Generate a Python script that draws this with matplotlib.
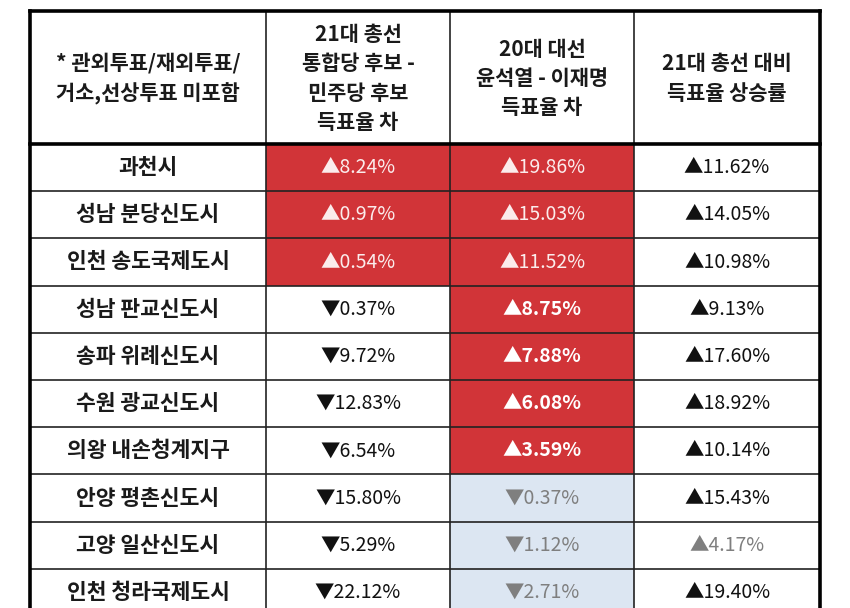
import numpy as np
import matplotlib as mpl
import matplotlib.pyplot as plt
from matplotlib.patches import Rectangle

plt.rcParams['font.family'] = ['Noto Sans CJK KR', 'DejaVu Sans']

#~~~~~~~~ Data ~~~~~~~~~~~~
headers = ['* 관외투표/재외투표/\n거소,선상투표 미포함',
           '21대 총선\n통합당 후보 -\n민주당 후보\n득표율 차',
           '20대 대선\n윤석열 - 이재명\n득표율 차',
           '21대 총선 대비\n득표율 상승률']
regions = ['과천시', '성남 분당신도시', '인천 송도국제도시', '성남 판교신도시',
           '송파 위례신도시', '수원 광교신도시', '의왕 내손청계지구',
           '안양 평촌신도시', '고양 일산신도시', '인천 청라국제도시']
gap21 = [8.24, 0.97, 0.54, -0.37, -9.72, -12.83, -6.54, -15.80, -5.29, -22.12]
gap20 = [19.86, 15.03, 11.52, 8.75, 7.88, 6.08, 3.59, -0.37, -1.12, -2.71]
rise = [11.62, 14.05, 10.98, 9.13, 17.60, 18.92, 10.14, 15.43, 4.17, 19.40]
#~~~~~~~~~~~~~~~~~~~~~~~~~~~

red = '#d13438'
blue = '#dce6f2'
grey = '#7f7f7f'

# layout in pixels
col_x = [30, 266, 450, 634, 820]
top = 11
head_h = 133
row_h = 47.2

def fmt(v):
    return ('▲' if v >= 0 else '▼') + '%.2f%%' % abs(v)

fig = plt.figure(figsize=(8.5, 6.08), dpi=100)
ax = fig.add_axes([0, 0, 1, 1])
ax.set_xlim(0, 850)
ax.set_ylim(608, 0)
ax.axis('off')

fs_head = 15
fs_name = 15.5
fs_val = 14

# header
for j, h in enumerate(headers):
    cx = (col_x[j] + col_x[j+1]) / 2
    ax.text(cx, top + head_h/2 + 1, h, ha='center', va='center', fontsize=fs_head,
            fontweight='bold', linespacing=1.5, color='#1a1a1a')

y0 = top + head_h
for i, name in enumerate(regions):
    y = y0 + i*row_h
    cy = y + row_h/2
    # cell fills
    if gap21[i] > 0:
        ax.add_patch(Rectangle((col_x[1], y), col_x[2]-col_x[1], row_h, fc=red, ec='none'))
    if gap20[i] > 0:
        ax.add_patch(Rectangle((col_x[2], y), col_x[3]-col_x[2], row_h, fc=red, ec='none'))
    else:
        ax.add_patch(Rectangle((col_x[2], y), col_x[3]-col_x[2], row_h, fc=blue, ec='none'))

    ax.text((col_x[0]+col_x[1])/2, cy, name, ha='center', va='center',
            fontsize=fs_name, fontweight='bold', color='#1a1a1a')

    c1 = '#fbecec' if gap21[i] > 0 else '#111111'
    ax.text((col_x[1]+col_x[2])/2, cy, fmt(gap21[i]), ha='center', va='center',
            fontsize=fs_val, color=c1)

    if gap20[i] > 0:
        bold = gap21[i] < 0
        c2 = 'white' if bold else '#fbecec'
        w2 = 'bold' if bold else 'normal'
    else:
        c2, w2 = grey, 'normal'
    ax.text((col_x[2]+col_x[3])/2, cy, fmt(gap20[i]), ha='center', va='center',
            fontsize=fs_val, color=c2, fontweight=w2)

    c3 = grey if rise[i] < 5 else '#111111'
    ax.text((col_x[3]+col_x[4])/2, cy, fmt(rise[i]), ha='center', va='center',
            fontsize=fs_val, color=c3)

    # row line
    ax.plot([col_x[0], col_x[-1]], [y + row_h, y + row_h], color='#222222', lw=1.2)

bottom = y0 + len(regions)*row_h
# column lines
for x in col_x[1:-1]:
    ax.plot([x, x], [top, bottom], color='#222222', lw=1.2)
# thick border
ax.plot([col_x[0], col_x[-1]], [top, top], color='black', lw=2.6, solid_capstyle='projecting')
ax.plot([col_x[0], col_x[-1]], [y0, y0], color='black', lw=2.6)
ax.plot([col_x[0], col_x[0]], [top, bottom], color='black', lw=2.6)
ax.plot([col_x[-1], col_x[-1]], [top, bottom], color='black', lw=2.6)

fig.savefig('out.png', dpi=100, facecolor='white')
